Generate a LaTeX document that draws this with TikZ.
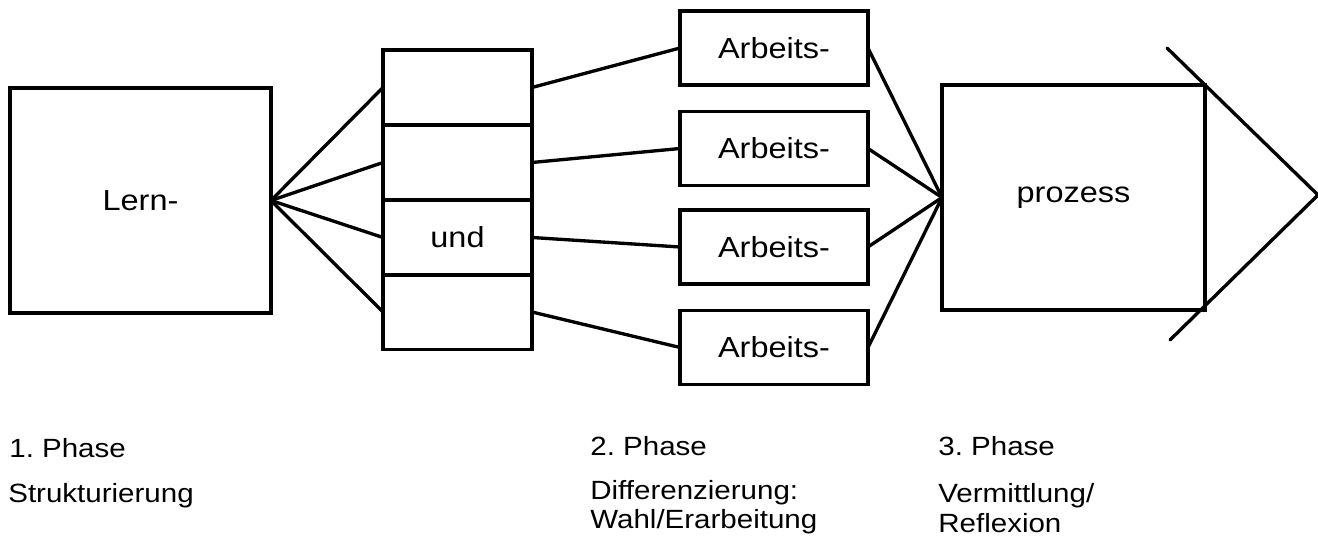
\documentclass[tikz,border=0pt]{standalone}
\usepackage{fontspec}
\setmainfont{Liberation Sans}[FakeStretch=1.12]
\usetikzlibrary{positioning}
\frenchspacing

\begin{document}
\begin{tikzpicture}[x=0.02cm,y=-0.02cm,
  box/.style={draw,line width=1.9pt,inner sep=0pt,outer sep=0pt,
    font=\fontsize{16.5}{20}\selectfont},
  link/.style={line width=1.9pt,line cap=round,line join=round},
  phase/.style={anchor=base west,inner sep=0pt,font=\fontsize{15}{18}\selectfont}]
  % Page frame
  \useasboundingbox (0,0) rectangle (1318,543);
  % Left box
  \node (lern) [box,minimum width=5.22cm,minimum height=4.5cm] at (140.5,200.5) {Lern-};
  % Stack of four boxes
  \foreach \i/\y/\t in {1/87.5/{},2/162.5/{},3/237.5/und,4/312/{}} {
    \node (st\i) [box,minimum width=2.98cm,minimum height=1.5cm] at (457.5,\y) {\t};
  }
  % Work boxes
  \foreach \i/\y in {1/48,2/148.5,3/247,4/347.5} {
    \node (arb\i) [box,minimum width=3.76cm,minimum height=1.48cm] at (774,\y) {Arbeits-};
  }
  % Right box
  \node (proz) [box,minimum width=5.26cm,minimum height=4.5cm] at (1073.5,197.5) {prozess};
  % Fan out and in
  \foreach \i in {1,...,4} {
    \draw[link] (lern.east) -- (st\i.west);
    \draw[link] (st\i.east) -- (arb\i.west);
    \draw[link] (arb\i.east) -- (proz.west);
  }
  % Arrow head
  \coordinate (headtop) at (1167,48);
  \coordinate (headtip) at (1318,195);
  \coordinate (headbot) at (1170,340);
  \draw[link] (headtop) -- (headtip) -- (headbot);
  % Phase labels
  \node (ph1) [phase] at (9,458) {1. Phase};
  \node (ph1a) [phase] at (8,502) {Strukturierung};
  \node (ph2) [phase] at (590,456) {2. Phase};
  \node (ph2a) [phase] at (590,500) {Differenzierung:};
  \node (ph2b) [phase] at (590,528) {Wahl/Erarbeitung};
  \node (ph3) [phase] at (938,456) {3. Phase};
  \node (ph3a) [phase] at (938,502) {Vermittlung/};
  \node (ph3b) [phase] at (938,532) {Reflexion};
\end{tikzpicture}
\end{document}
